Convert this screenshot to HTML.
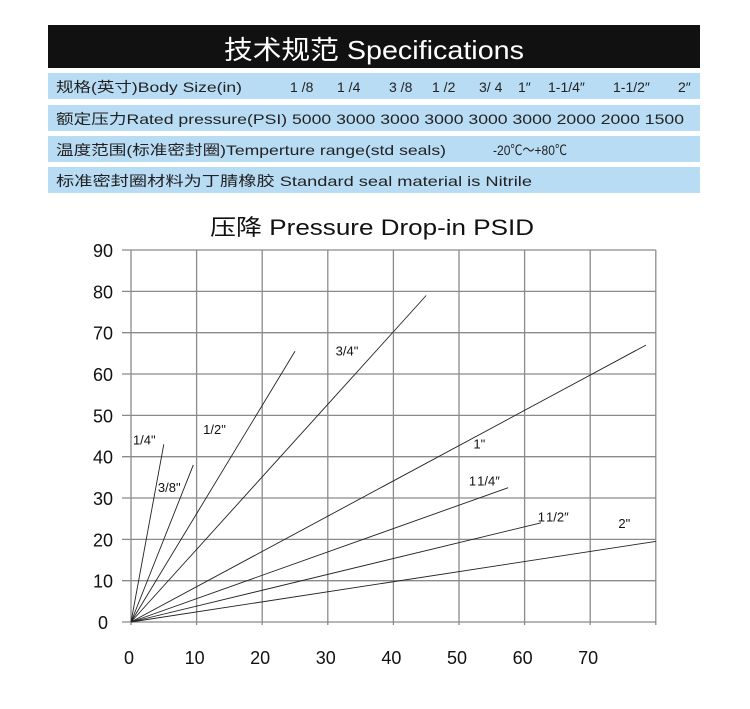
<!DOCTYPE html>
<html><head><meta charset="utf-8"><style>
html,body{margin:0;padding:0;background:#fff;}
svg{display:block;font-family:"Liberation Sans","Noto Sans CJK SC",sans-serif;}
</style></head><body>
<svg id="c" width="750" height="709" viewBox="0 0 750 709">
<g>
<rect x="48" y="25" width="652" height="43" fill="#111"/>
<text x="374" y="59" fill="#fff" font-size="26" text-anchor="middle" textLength="300" lengthAdjust="spacingAndGlyphs">技术规范 Specifications</text>
<rect x="48" y="73" width="652" height="26" fill="#b9dcf5"/>
<rect x="48" y="105" width="652" height="26" fill="#b9dcf5"/>
<rect x="48" y="136" width="652" height="26" fill="#b9dcf5"/>
<rect x="48" y="167" width="652" height="26" fill="#b9dcf5"/>
<g font-size="14" fill="#222">
<text x="56" y="92" textLength="186" lengthAdjust="spacingAndGlyphs">规格(英寸)Body Size(in)</text>
<text x="290" y="92">1 /8</text>
<text x="337" y="92">1 /4</text>
<text x="389" y="92">3 /8</text>
<text x="432" y="92">1 /2</text>
<text x="479" y="92">3/ 4</text>
<text x="518" y="92">1″</text>
<text x="548" y="92">1-1/4″</text>
<text x="613" y="92">1-1/2″</text>
<text x="678" y="92">2″</text>
<text x="56" y="124" textLength="628" lengthAdjust="spacingAndGlyphs">额定压力Rated pressure(PSI) 5000 3000 3000  3000 3000 3000 2000  2000 1500</text>
<text x="56" y="155" textLength="390" lengthAdjust="spacingAndGlyphs">温度范围(标准密封圈)Temperture range(std seals)</text>
<text x="493" y="155" textLength="74" lengthAdjust="spacingAndGlyphs">-20℃～+80℃</text>
<text x="56" y="186" textLength="476" lengthAdjust="spacingAndGlyphs">标准密封圈材料为丁腈橡胶  Standard seal  material is  Nitrile</text>
</g>
</g>
<text x="372" y="235" font-size="22" fill="#111" text-anchor="middle" textLength="324" lengthAdjust="spacingAndGlyphs">压降 Pressure Drop-in PSID</text>
<g id="grid"></g>
<g id="lines"></g>
<g id="labels"></g>
</svg>
<script>
const xTicks=[0,10,20,30,40,50,60,70];
const yTicks=[0,10,20,30,40,50,60,70,80,90];
const seriesNames=['1/4"','3/8"','1/2"','3/4"','1"','1-1/4"','1-1/2"','2"'];
const endX=[5,9.5,25,45,78.5,57.5,62.5,80];
const endY=[43,38,65.5,79,67,32.5,24,19.5];
const labelText=['1/4"','3/8"','1/2"','3/4"','1"','1\u200a1/4″','1\u200a1/2″','2"'];
const labelX=[0.3,4.1,11,31.2,52.2,51.5,62,74.3];
const labelY=[43,31.5,45.5,64.5,42,33,24.3,22.8];
const X0=131,PX=6.56,Y0=622,PY=4.133;
const sx=v=>X0+v*PX, sy=v=>Y0-v*PY;
const NS='http://www.w3.org/2000/svg';
function mk(t,a,p){const e=document.createElementNS(NS,t);for(const k in a)e.setAttribute(k,a[k]);p.appendChild(e);return e;}
const g=document.getElementById('grid');
const xr=sx(80);
yTicks.forEach(v=>{const l=mk('line',{x1:122,x2:xr,y1:sy(v),y2:sy(v),stroke:'#8a8a8a','stroke-width':1.3},g);


const t=mk('text',{x:103,y:sy(v)+7,'font-size':18,'text-anchor':'middle',fill:'#111'},g);t.textContent=v;

});
xTicks.concat([80]).forEach(v=>{const l=mk('line',{x1:sx(v),x2:sx(v),y1:sy(90),y2:sy(0)+3,stroke:'#8a8a8a','stroke-width':1.3},g);

});
xTicks.forEach(v=>{const t=mk('text',{x:sx(v)-2,y:664,'font-size':18,'text-anchor':'middle',fill:'#111'},g);t.textContent=v;

});
const L=document.getElementById('lines'),LB=document.getElementById('labels');
seriesNames.forEach((n,i)=>{const l=mk('line',{x1:sx(0),y1:sy(0),x2:sx(endX[i]),y2:sy(endY[i]),stroke:'#222','stroke-width':0.9},L);


const t=mk('text',{x:sx(labelX[i]),y:sy(labelY[i]),'font-size':13,fill:'#111'},LB);t.textContent=labelText[i];

});
</script>
</body></html>
